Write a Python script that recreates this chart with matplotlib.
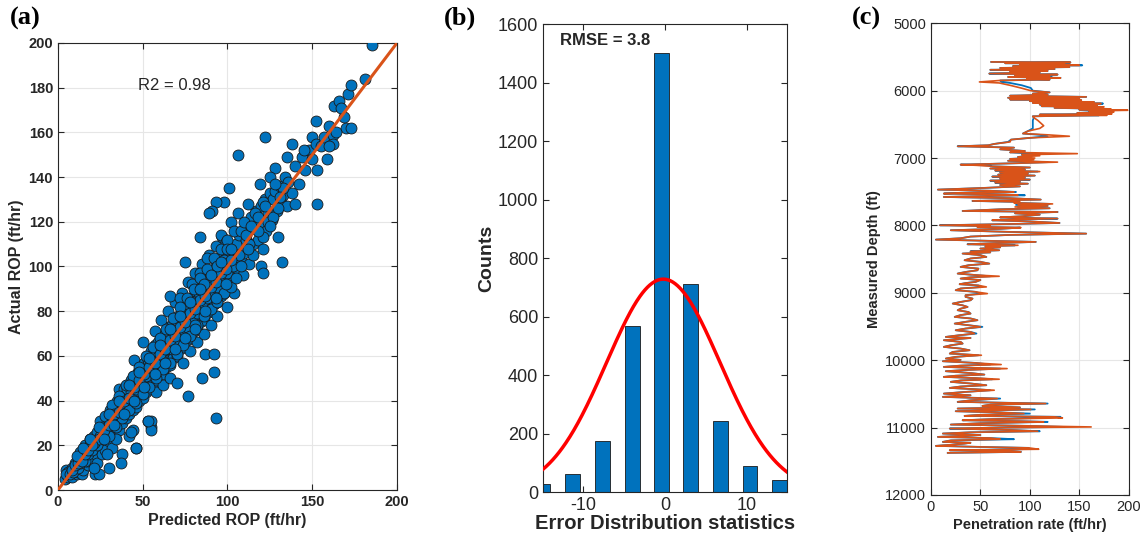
import matplotlib
matplotlib.use("Agg")
import matplotlib.pyplot as plt
import numpy as np

# ---------------- Panel (a) data: predicted vs actual ROP ----------------
predicted_rop = [
    4, 5, 6, 7, 8, 9, 10, 6, 8, 11,
    11, 12, 13, 14, 15, 12, 14, 13, 16, 15,
    17, 18, 19, 16, 18, 20, 17, 19, 21, 22,
    20, 21, 22, 23, 24, 22, 23, 25, 24, 21,
    25, 26, 27, 28, 26, 27, 29, 28, 25, 30,
    30, 31, 32, 33, 31, 32, 34, 33, 29, 30,
    34, 35, 36, 37, 35, 36, 38, 37, 34, 36,
    38, 39, 40, 41, 39, 40, 42, 41, 38, 37,
    42, 43, 44, 45, 43, 44, 46, 45, 42, 44,
    46, 47, 48, 49, 47, 48, 50, 49, 46, 45,
    50, 51, 52, 53, 51, 52, 54, 53, 50, 55,
    54, 55, 56, 57, 55, 56, 58, 57, 53, 55,
    58, 59, 60, 61, 59, 60, 62, 61, 57, 58,
    62, 63, 64, 65, 63, 64, 66, 65, 61, 62,
    66, 67, 68, 69, 67, 68, 70, 69, 65, 66,
    70, 71, 72, 73, 71, 72, 74, 73, 69, 70,
    74, 75, 76, 77, 75, 76, 78, 77, 73, 74,
    78, 79, 80, 81, 79, 80, 82, 81, 77, 78,
    82, 83, 84, 85, 83, 84, 86, 85, 81, 82,
    86, 87, 88, 89, 87, 88, 90, 89, 85, 86,
    90, 91, 92, 93, 91, 92, 94, 93, 89, 90,
    94, 95, 96, 97, 95, 96, 98, 97, 93, 94,
    98, 99, 100, 101, 99, 100, 102, 101, 97, 100,
    103, 104, 105, 106, 107, 108, 102, 104, 106, 109,
    110, 111, 112, 113, 114, 115, 116, 117, 112, 115,
    118, 119, 120, 121, 122, 123, 124, 125, 119, 121,
    126, 127, 128, 129, 130, 131, 132, 133, 134, 135,
    136, 138, 140, 142, 144, 146, 148, 150, 152, 155,
    157, 160, 162, 163, 166, 170, 171, 173, 181, 185,
    106, 122, 101, 98, 93, 91, 89, 84, 75, 66,
    93, 77, 55, 53, 46, 43, 85, 92, 87, 92,
    120, 121, 132, 153, 140, 150, 159, 162, 169, 173,
    138, 128, 125, 135, 145, 152, 160, 164, 167, 153,
    5, 7, 9, 10, 12, 13, 15, 16, 18, 19,
    20, 22, 23, 25, 26, 28, 29, 31, 32, 34,
    35, 37, 38, 40, 41, 43, 44, 46, 47, 49,
    50, 52, 53, 55, 56, 58, 59, 61, 62, 64,
    65, 67, 68, 70, 71, 73, 74, 76, 77, 79,
    80, 82, 83, 85, 86, 88, 89, 91, 92, 94,
    95, 97, 98, 100, 96, 99, 88, 84, 79, 72,
    30, 34, 38, 42, 46, 50, 54, 58, 62, 66,
    28, 32, 36, 40, 44, 48, 52, 56, 60, 64,
    70, 74, 78, 82, 86, 90, 94, 98, 102, 105,
    68, 72, 76, 80, 84, 88, 92, 96, 100, 104,
    108, 110, 113, 116, 118, 121, 124, 127, 130, 133,
    100, 103, 107, 111, 114, 118, 122, 125, 128, 131,
    21, 24, 27, 30, 33, 36, 39, 42, 45, 48,
    51, 54, 57, 60, 63, 66, 69, 72, 75, 78,
    81, 84, 87, 90, 93, 96, 99, 102, 86, 94,
    24, 30, 36, 42, 48, 54, 60, 66, 72, 78,
    27, 33, 39, 45, 51, 57, 63, 69, 75, 81,
    84, 90, 96, 87, 93, 99, 81, 102, 108, 112,
    8, 10, 12, 14, 16, 18, 20, 11, 15, 19,
]
actual_rop = [
    5, 9, 6, 8, 6, 10, 8, 8, 10, 7,
    11, 13, 10, 15, 12, 8, 7, 17, 14, 9,
    15, 19, 17, 20, 11, 21, 13, 23, 18, 7,
    14, 24, 19, 26, 22, 16, 12, 28, 7, 10,
    19, 25, 30, 24, 16, 21, 33, 18, 31, 27,
    22, 29, 33, 28, 36, 19, 31, 38, 16, 10,
    26, 34, 31, 37, 40, 27, 35, 42, 23, 45,
    30, 39, 35, 42, 45, 32, 38, 47, 16, 12,
    34, 41, 39, 44, 49, 36, 43, 51, 24, 27,
    37, 46, 42, 49, 53, 40, 47, 56, 19, 58,
    41, 49, 46, 53, 57, 44, 51, 60, 66, 28,
    45, 53, 50, 57, 62, 48, 55, 65, 31, 31,
    49, 57, 54, 61, 66, 52, 59, 69, 71, 44,
    52, 61, 57, 65, 70, 55, 63, 73, 76, 47,
    56, 65, 61, 69, 74, 59, 67, 77, 80, 50,
    60, 69, 65, 73, 78, 63, 71, 81, 84, 48,
    64, 73, 69, 77, 82, 67, 75, 85, 88, 57,
    68, 77, 73, 81, 86, 71, 79, 89, 93, 62,
    72, 81, 77, 85, 90, 75, 83, 93, 97, 66,
    76, 85, 81, 89, 94, 79, 87, 97, 101, 70,
    80, 89, 85, 93, 98, 83, 91, 101, 105, 74,
    84, 93, 89, 97, 102, 87, 95, 105, 109, 78,
    88, 97, 93, 101, 106, 91, 99, 109, 113, 82,
    95, 104, 110, 99, 114, 103, 120, 88, 124, 96,
    106, 112, 118, 101, 122, 110, 117, 125, 128, 105,
    112, 120, 127, 108, 130, 116, 124, 133, 137, 113,
    121, 130, 134, 125, 113, 136, 128, 132, 140, 127,
    138, 133, 145, 137, 149, 143, 152, 158, 155, 154,
    158, 163, 159, 172, 174, 162, 177, 181, 184, 199,
    150, 158, 135, 129, 129, 125, 124, 113, 102, 87,
    32, 42, 27, 31, 19, 26, 50, 53, 61, 61,
    100, 97, 102, 128, 128, 148, 148, 155, 167, 162,
    155, 144, 140, 149, 152, 165, 154, 160, 171, 143,
    7, 7, 8, 12, 10, 12, 16, 13, 16, 20,
    18, 22, 20, 24, 28, 27, 25, 31, 28, 33,
    37, 34, 41, 38, 45, 44, 47, 45, 51, 47,
    54, 51, 58, 56, 60, 57, 63, 60, 67, 63,
    70, 63, 72, 67, 75, 70, 80, 73, 83, 76,
    84, 79, 88, 83, 92, 86, 95, 88, 97, 91,
    99, 94, 103, 97, 114, 111, 104, 97, 92, 86,
    24, 28, 32, 36, 39, 43, 46, 50, 54, 57,
    33, 38, 42, 47, 51, 55, 60, 64, 68, 72,
    61, 65, 69, 74, 78, 81, 84, 88, 91, 95,
    77, 82, 86, 90, 95, 99, 104, 108, 112, 116,
    116, 120, 110, 124, 116, 129, 120, 122, 126, 135,
    108, 100, 105, 114, 118, 122, 127, 118, 137, 131,
    21, 23, 27, 29, 34, 35, 40, 41, 46, 49,
    52, 55, 57, 61, 63, 67, 69, 73, 75, 79,
    81, 85, 87, 91, 93, 97, 99, 103, 92, 100,
    28, 34, 40, 47, 53, 59, 65, 72, 78, 84,
    23, 29, 34, 40, 46, 52, 57, 63, 68, 74,
    90, 96, 102, 80, 86, 92, 72, 108, 100, 108,
    9, 11, 12, 13, 16, 18, 20, 15, 19, 23,
]
r2_text = "R2 = 0.98"

# ---------------- Panel (b) data: error histogram ----------------
error_bin_centers = [-14.9, -11.3, -7.65, -4.0, -0.4, 3.15, 6.75, 10.4, 14.0]
error_counts = [26, 63, 176, 567, 1501, 713, 243, 88, 41]
fit_mu = -0.2
fit_sigma = 6.95
fit_peak = 728
rmse_text = "RMSE = 3.8"

# ---------------- Panel (c) data: ROP log vs depth ----------------
depth_ft = [
    5573, 5580, 5592, 5600, 5612, 5623, 5635, 5650, 5662, 5678,
    5690, 5705, 5718, 5730, 5746, 5760, 5772, 5786, 5796, 5810,
    5822, 5835, 5848, 5870, 5885, 5920, 5960, 6000, 6025, 6043,
    6060, 6075, 6092, 6105, 6120, 6130, 6142, 6155, 6170, 6180,
    6191, 6205, 6218, 6230, 6240, 6255, 6270, 6280, 6290, 6302,
    6315, 6330, 6342, 6355, 6365, 6380, 6400, 6440, 6520, 6560,
    6600, 6636, 6655, 6676, 6700, 6726, 6760, 6790, 6810, 6825,
    6845, 6870, 6895, 6915, 6934, 6950, 6965, 6983, 7000, 7012,
    7023, 7040, 7060, 7075, 7097, 7110, 7122, 7140, 7155, 7170,
    7185, 7200, 7215, 7230, 7245, 7260, 7275, 7290, 7305, 7320,
    7335, 7350, 7365, 7380, 7400, 7420, 7445, 7468, 7485, 7503,
    7515, 7527, 7540, 7552, 7565, 7577, 7595, 7616, 7636, 7650,
    7665, 7680, 7695, 7710, 7725, 7745, 7760, 7785, 7800, 7820,
    7840, 7864, 7880, 7898, 7910, 7923, 7940, 7963, 7980, 7997,
    8010, 8022, 8032, 8050, 8071, 8096, 8121, 8140, 8165, 8190,
    8210, 8228, 8244, 8262, 8279, 8294, 8310, 8325, 8343, 8368,
    8385, 8400, 8417, 8440, 8467, 8490, 8516, 8540, 8566, 8590,
    8615, 8640, 8665, 8690, 8714, 8735, 8754, 8770, 8788, 8810,
    8838, 8855, 8872, 8890, 8912, 8935, 8961, 8985, 9011, 9035,
    9060, 9085, 9110, 9135, 9159, 9185, 9209, 9235, 9258, 9285,
    9308, 9330, 9357, 9380, 9406, 9430, 9456, 9480, 9505, 9530,
    9555, 9580, 9604, 9630, 9654, 9670, 9703, 9728, 9753, 9778,
    9802, 9827, 9852, 9877, 9901, 9914, 9926, 9950, 9975, 9995,
    10015, 10040, 10064, 10080, 10099, 10112, 10124, 10145, 10163, 10190,
    10213, 10230, 10247, 10265, 10282, 10300, 10321, 10345, 10371, 10390,
    10411, 10430, 10445, 10470, 10495, 10520, 10544, 10569, 10595, 10618,
    10643, 10660, 10678, 10700, 10717, 10730, 10757, 10775, 10792, 10810,
    10826, 10840, 10856, 10875, 10891, 10905, 10915, 10935, 10955, 10975,
    10990, 11002, 11014, 11035, 11054, 11070, 11088, 11110, 11138, 11155,
    11172, 11190, 11212, 11225, 11237, 11255, 11271, 11290, 11301, 11321,
    11336, 11350, 11360, 11375,
]
rop_predicted = [
    61, 141, 75, 135, 90, 150, 83, 140, 70, 125,
    60, 118, 80, 110, 59, 128, 85, 120, 78, 131,
    97, 120, 70, 49, 69, 80, 91, 101, 120, 103,
    118, 80, 157, 78, 150, 80, 152, 100, 165, 103,
    172, 110, 168, 112, 175, 125, 182, 150, 199, 160,
    185, 148, 183, 110, 178, 103, 104, 108, 114, 110,
    98, 93, 118, 140, 100, 81, 80, 64, 58, 27,
    84, 70, 95, 80, 148, 92, 110, 88, 105, 80,
    104, 78, 128, 90, 30, 50, 61, 100, 60, 95,
    65, 110, 70, 98, 68, 105, 62, 95, 70, 100,
    60, 90, 65, 98, 70, 90, 50, 7, 60, 84,
    30, 13, 75, 88, 50, 13, 80, 111, 42, 90,
    84, 123, 88, 118, 85, 120, 70, 32, 128, 85,
    110, 91, 70, 128, 85, 62, 100, 130, 75, 9,
    60, 47, 91, 70, 20, 81, 157, 80, 40, 30,
    5, 60, 106, 65, 37, 88, 55, 70, 50, 69,
    40, 60, 32, 50, 56, 40, 34, 50, 59, 38,
    30, 48, 47, 35, 27, 45, 69, 40, 30, 50,
    45, 35, 29, 48, 56, 30, 25, 45, 57, 35,
    35, 42, 40, 30, 22, 32, 37, 30, 27, 38,
    40, 30, 24, 40, 47, 35, 24, 38, 50, 35,
    25, 40, 44, 28, 15, 40, 13, 30, 32, 20,
    13, 30, 39, 22, 19, 35, 51, 25, 15, 30,
    12, 45, 71, 30, 13, 40, 77, 35, 15, 40,
    54, 25, 13, 45, 69, 30, 20, 40, 56, 30,
    19, 45, 64, 35, 13, 40, 12, 67, 40, 27,
    116, 60, 52, 90, 27, 101, 25, 70, 94, 50,
    34, 125, 133, 60, 32, 90, 114, 50, 20, 100,
    162, 60, 19, 80, 108, 40, 12, 50, 7, 60,
    70, 20, 12, 40, 34, 20, 5, 60, 99, 109,
    19, 80, 91, 17,
]
rop_actual = [
    61, 141, 75, 140, 90, 153, 83, 140, 70, 125,
    60, 118, 80, 110, 59, 128, 85, 122, 78, 131,
    97, 120, 70, 71, 80, 92, 101, 103, 120, 103,
    118, 80, 157, 78, 150, 80, 152, 100, 165, 103,
    174, 110, 168, 112, 172, 125, 178, 150, 176, 160,
    170, 148, 175, 110, 170, 103, 104, 103, 103, 103,
    98, 93, 110, 118, 100, 81, 78, 64, 58, 27,
    84, 70, 95, 80, 103, 92, 100, 88, 100, 80,
    100, 78, 118, 90, 30, 60, 62, 100, 60, 95,
    65, 108, 70, 98, 68, 105, 62, 95, 70, 100,
    60, 90, 65, 98, 70, 90, 50, 7, 60, 86,
    30, 13, 75, 95, 50, 13, 80, 111, 42, 86,
    86, 120, 86, 118, 88, 120, 70, 32, 128, 85,
    110, 93, 70, 128, 85, 62, 100, 130, 75, 9,
    60, 47, 90, 70, 20, 81, 157, 80, 40, 30,
    5, 60, 106, 65, 37, 85, 55, 70, 50, 69,
    40, 60, 32, 50, 56, 40, 34, 50, 59, 38,
    30, 48, 47, 35, 27, 45, 60, 40, 30, 50,
    45, 35, 29, 48, 52, 30, 25, 45, 50, 35,
    35, 42, 40, 30, 22, 32, 37, 30, 27, 38,
    40, 30, 24, 40, 47, 35, 24, 38, 52, 35,
    25, 40, 46, 28, 15, 40, 13, 30, 32, 20,
    13, 30, 39, 22, 19, 35, 48, 25, 15, 30,
    12, 45, 60, 30, 13, 40, 70, 35, 15, 40,
    54, 25, 13, 45, 62, 30, 20, 40, 56, 30,
    19, 45, 60, 35, 13, 40, 12, 70, 40, 27,
    118, 60, 52, 90, 27, 105, 25, 70, 100, 50,
    34, 131, 110, 60, 32, 90, 118, 50, 20, 100,
    135, 60, 19, 80, 110, 40, 12, 50, 7, 60,
    84, 20, 12, 40, 34, 20, 5, 60, 99, 92,
    19, 80, 91, 17,
]

# ---------------- Styling ----------------
BLUE = "#0072BD"
ORANGE = "#D95319"
TXT = "#262626"
plt.rcParams["font.family"] = ["Liberation Sans", "DejaVu Sans"]
plt.rcParams["axes.unicode_minus"] = False

fig = plt.figure(figsize=(11.43, 5.36), dpi=100)


def matlab_axes(ax, tick_size, bold_ticks=False, grid=True):
    for s in ax.spines.values():
        s.set_color("#262626")
        s.set_linewidth(0.8)
    ax.tick_params(direction="in", top=True, right=True, length=4, width=0.8,
                   labelsize=tick_size, colors=TXT, labelcolor=TXT)
    if bold_ticks:
        for lab in ax.get_xticklabels() + ax.get_yticklabels():
            lab.set_fontweight("bold")
    if grid:
        ax.grid(True, color="#e6e6e6", linewidth=0.8)
        ax.set_axisbelow(True)


# ---- (a) ----
ax1 = fig.add_axes([0.0507, 0.0858, 0.2966, 0.834])
ax1.scatter(predicted_rop, actual_rop, s=62, c=BLUE, edgecolors="#1a1a1a",
            linewidths=0.6, zorder=3)
ax1.plot([0, 200], [0, 200], color=ORANGE, lw=2.2, zorder=4)
ax1.set_xlim(0, 200)
ax1.set_ylim(0, 200)
ax1.set_xticks([0, 50, 100, 150, 200])
ax1.set_yticks(range(0, 201, 20))
matlab_axes(ax1, 10.5, bold_ticks=True)
ax1.text(47, 181, r2_text, fontsize=12, color=TXT, va="center", ha="left")
ax1.set_xlabel("Predicted ROP (ft/hr)", fontsize=11.5, fontweight="bold",
               color=TXT, labelpad=3)
ax1.set_ylabel("Actual ROP (ft/hr)", fontsize=11.5, fontweight="bold",
               color=TXT, labelpad=3)

# ---- (b) ----
ax2 = fig.add_axes([0.475, 0.082, 0.2135, 0.873])
ax2.bar(error_bin_centers, error_counts, width=1.8, color=BLUE,
        edgecolor="#1a1a1a", linewidth=0.6, zorder=2)
xs = np.linspace(-14.9, 14.9, 300)
ax2.plot(xs, fit_peak * np.exp(-0.5 * ((xs - fit_mu) / fit_sigma) ** 2),
         color="red", lw=2.5, zorder=3)
ax2.set_xlim(-14.9, 14.9)
ax2.set_ylim(0, 1600)
ax2.set_xticks([-10, 0, 10])
ax2.set_yticks(range(0, 1601, 200))
matlab_axes(ax2, 13, grid=False)
ax2.text(-12.8, 1545, rmse_text, fontsize=12, fontweight="bold", color=TXT,
         va="center", ha="left")
ax2.set_xlabel("Error Distribution statistics", fontsize=14.5,
               fontweight="bold", color=TXT, labelpad=0)
ax2.set_ylabel("Counts", fontsize=14, fontweight="bold", color=TXT,
               labelpad=2)

# ---- (c) ----
ax3 = fig.add_axes([0.8145, 0.0765, 0.173, 0.88])
ax3.plot(rop_actual, depth_ft, color=BLUE, lw=1.3, zorder=2)
ax3.plot(rop_predicted, depth_ft, color=ORANGE, lw=1.2, zorder=3)
ax3.set_xlim(0, 200)
ax3.set_ylim(12000, 5000)
ax3.set_xticks([0, 50, 100, 150, 200])
ax3.set_yticks(range(5000, 12001, 1000))
matlab_axes(ax3, 10.5)
ax3.set_xlabel("Penetration rate (ft/hr)", fontsize=10.5, fontweight="bold",
               color=TXT, labelpad=3)
ax3.set_ylabel("Measured Depth (ft)", fontsize=10.5, fontweight="bold",
               color=TXT, labelpad=3)

# Panel letters
for x, lab in [(0.009, "(a)"), (0.388, "(b)"), (0.745, "(c)")]:
    fig.text(x, 0.965, lab, fontsize=19, fontweight="bold",
             family=["Liberation Serif", "DejaVu Serif"], va="center",
             ha="left", color="black")

fig.savefig("out.png", dpi=100)
